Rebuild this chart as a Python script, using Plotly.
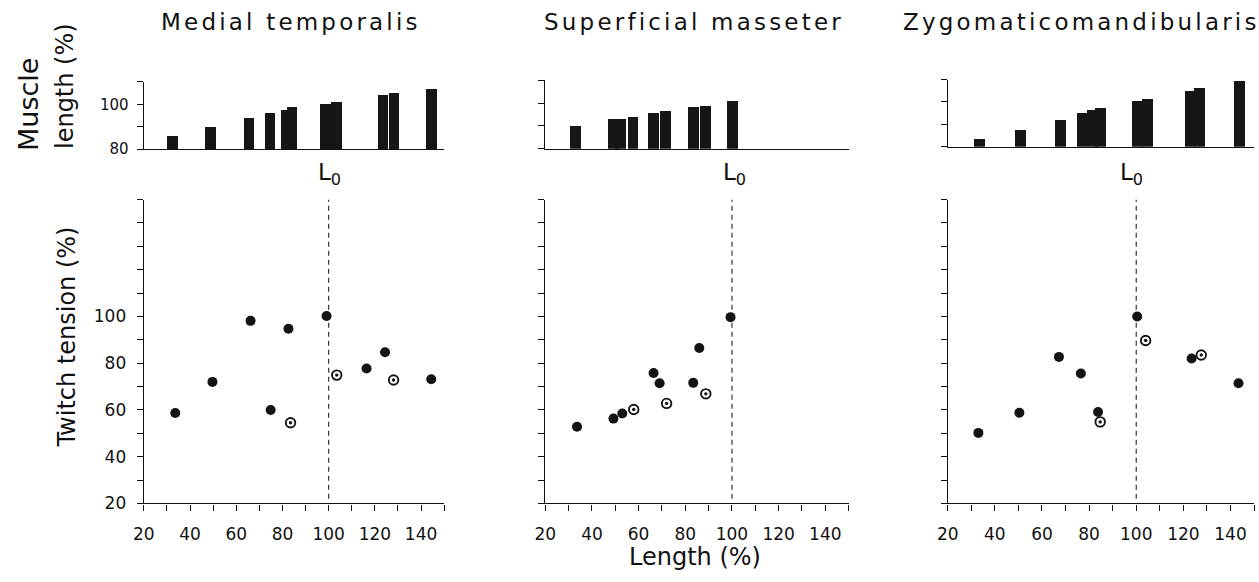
import plotly.graph_objects as go

FONT = "DejaVu Sans"

# ---------------- data ----------------
TITLES = ["Medial temporalis", "Superficial masseter", "Zygomaticomandibularis"]

# Medial temporalis
MT_FILLED_LEN = [33.6, 49.7, 66.2, 74.9, 82.6, 99.1, 116.4, 124.4, 144.4]
MT_FILLED_TEN = [58.7, 72.0, 98.1, 60.0, 94.7, 100.2, 77.7, 84.7, 73.1]
MT_OPEN_LEN = [83.5, 103.5, 128.1]
MT_OPEN_TEN = [54.5, 74.9, 72.8]
MT_BAR_LEN = [32.4, 48.9, 65.4, 74.6, 81.8, 84.0, 98.5, 103.2, 123.5, 128.2, 144.3]
MT_BAR_VAL = [86.1, 90.0, 93.8, 96.1, 97.3, 98.9, 100.2, 101.1, 104.1, 105.0, 107.1]

# Superficial masseter
SM_FILLED_LEN = [33.6, 49.2, 53.0, 66.4, 69.0, 83.4, 86.0, 99.4]
SM_FILLED_TEN = [52.8, 56.3, 58.5, 75.8, 71.4, 71.6, 86.5, 99.7]
SM_OPEN_LEN = [57.9, 72.0, 88.8]
SM_OPEN_TEN = [60.2, 62.8, 66.9]
SM_BAR_LEN = [33.0, 49.3, 52.4, 57.7, 66.6, 71.6, 83.5, 88.7, 100.2]
SM_BAR_VAL = [89.7, 92.7, 92.7, 93.9, 95.4, 96.4, 98.2, 98.7, 100.6]

# Zygomaticomandibularis
ZM_FILLED_LEN = [33.0, 50.4, 67.2, 76.5, 83.8, 100.4, 123.5, 143.4]
ZM_FILLED_TEN = [50.2, 58.8, 82.7, 75.6, 59.1, 100.0, 82.0, 71.4]
ZM_OPEN_LEN = [84.7, 104.0, 127.6]
ZM_OPEN_TEN = [54.9, 89.7, 83.5]
ZM_BAR_LEN = [33.5, 50.8, 67.7, 76.9, 81.5, 84.7, 100.4, 104.6, 122.7, 126.7, 143.7]
ZM_BAR_VAL = [83.6, 87.7, 92.1, 95.2, 96.4, 97.4, 100.4, 101.3, 105.3, 106.3, 109.5]

L0_VALUE = 100

X_TICK_VALS = [20, 40, 60, 80, 100, 120, 140]
X_TICK_TEXT = ["20", "40", "60", "80", "100", "120", "140"]
X_MINOR_VALS = [30, 50, 70, 90, 110, 130, 150]
Y_TICK_VALS = [20, 40, 60, 80, 100]
Y_TICK_TEXT = ["20", "40", "60", "80", "100"]
Y_MINOR_VALS = [30, 50, 70, 90, 110, 120, 130, 140, 150]
BAR_TICK_VALS = [80, 100]
BAR_TICK_TEXT = ["80", "100"]
BAR_MINOR_VALS = [90, 110]

X_RANGE = [20, 150]
Y_RANGE = [20, 150]
BAR_RANGE = [80, 110]

panels = [
    (MT_FILLED_LEN, MT_FILLED_TEN, MT_OPEN_LEN, MT_OPEN_TEN, MT_BAR_LEN, MT_BAR_VAL),
    (SM_FILLED_LEN, SM_FILLED_TEN, SM_OPEN_LEN, SM_OPEN_TEN, SM_BAR_LEN, SM_BAR_VAL),
    (ZM_FILLED_LEN, ZM_FILLED_TEN, ZM_OPEN_LEN, ZM_OPEN_TEN, ZM_BAR_LEN, ZM_BAR_VAL),
]

# ---------------- layout geometry (pixels) ----------------
W, H = 1259, 582
X_DOMAINS_PX = [(134, 437), (539, 845), (945, 1254)]
SC_Y_PX = (512.3, 203.0)
BAR_Y_PX = [(151.7, 83.3), (151.3, 81.7), (149.3, 81.0)]
TITLE_X_PX = [282, 689, 1080]
L0_SHIFT = [1, 3, -5]


def px_x(p):
    return p / W


def px_y(p):
    return 1 - p / H


fig = go.Figure()
layout = dict(
    width=W, height=H,
    margin=dict(l=0, r=0, t=0, b=0),
    paper_bgcolor="white", plot_bgcolor="white",
    showlegend=False,
    font=dict(family=FONT, color="#111"),
    bargap=0,
)

axis_common = dict(
    showline=True, linecolor="#111", linewidth=1.4,
    showgrid=False, zeroline=False,
    ticks="outside", ticklen=6, tickwidth=1.3, tickcolor="#111",
)


def minor(vals):
    return dict(tickmode="array", tickvals=vals, ticks="outside", ticklen=6,
                tickwidth=1.3, tickcolor="#111", showgrid=False)


annotations = []
shapes = []

for i, (fl, ft, ol, ot, bl, bv) in enumerate(panels):
    sx = i + 1          # scatter axes
    bx = i + 4          # bar axes
    dom = [px_x(X_DOMAINS_PX[i][0]), px_x(X_DOMAINS_PX[i][1])]

    # scatter axes
    layout[f"xaxis{sx}"] = dict(
        axis_common, domain=dom, range=X_RANGE, anchor=f"y{sx}",
        tickmode="array", tickvals=X_TICK_VALS, ticktext=X_TICK_TEXT,
        minor=minor(X_MINOR_VALS),
        tickfont=dict(size=17, family=FONT, color="#111"), ticklabelstandoff=9,
    )
    layout[f"yaxis{sx}"] = dict(
        axis_common, domain=[px_y(SC_Y_PX[0]), px_y(SC_Y_PX[1])], range=Y_RANGE,
        anchor=f"x{sx}", tickmode="array", tickvals=Y_TICK_VALS,
        ticktext=Y_TICK_TEXT, showticklabels=(i == 0),
        minor=minor(Y_MINOR_VALS),
        tickfont=dict(size=17, family=FONT, color="#111"), ticklabelstandoff=7,
    )
    # bar axes
    layout[f"xaxis{bx}"] = dict(
        axis_common, domain=dom, range=X_RANGE, anchor=f"y{bx}",
        ticks="", showticklabels=False,
    )
    layout[f"yaxis{bx}"] = dict(
        axis_common, domain=[px_y(BAR_Y_PX[i][0]), px_y(BAR_Y_PX[i][1])],
        range=BAR_RANGE, anchor=f"x{bx}", tickmode="array",
        tickvals=BAR_TICK_VALS, ticktext=BAR_TICK_TEXT, showticklabels=(i == 0),
        minor=minor(BAR_MINOR_VALS),
        tickfont=dict(size=15, family=FONT, color="#111"), ticklabelstandoff=5,
    )

    xs, ys = ("x" if sx == 1 else f"x{sx}"), ("y" if sx == 1 else f"y{sx}")

    fig.add_trace(go.Bar(
        x=bl, y=bv, width=4.6, xaxis=f"x{bx}", yaxis=f"y{bx}",
        marker=dict(color="#161616", line=dict(width=0)),
    ))
    fig.add_trace(go.Scatter(
        x=fl, y=ft, mode="markers", xaxis=xs, yaxis=ys,
        marker=dict(size=10, color="#141414", line=dict(width=0)),
    ))
    fig.add_trace(go.Scatter(
        x=ol, y=ot, mode="markers", xaxis=xs, yaxis=ys,
        marker=dict(size=9.5, color="white", line=dict(width=1.9, color="#141414")),
    ))
    fig.add_trace(go.Scatter(
        x=ol, y=ot, mode="markers", xaxis=xs, yaxis=ys,
        marker=dict(size=3.4, color="#141414", line=dict(width=0)),
    ))

    shapes.append(dict(
        type="line", xref=xs, yref=ys, x0=L0_VALUE, x1=L0_VALUE, y0=22, y1=150,
        line=dict(color="#333", width=1.2, dash="5px,4px"), layer="below",
    ))

    annotations.append(dict(
        text=f'<span style="letter-spacing:3.2px">{TITLES[i]}</span>',
        xref="paper", yref="paper", x=px_x(TITLE_X_PX[i]), y=px_y(22),
        xanchor="center", yanchor="middle", showarrow=False,
        font=dict(size=23, family=FONT, color="#111"),
    ))
    annotations.append(dict(
        text="L<sub>0</sub>",
        xref=f"x{bx}", yref="paper", x=L0_VALUE, y=px_y(177),
        xanchor="center", yanchor="middle", xshift=L0_SHIFT[i], showarrow=False,
        font=dict(size=23, family=FONT, color="#111"),
    ))

annotations += [
    dict(text="Muscle", xref="paper", yref="paper", x=px_x(17), y=px_y(106),
         textangle=-90, showarrow=False, xanchor="center", yanchor="middle",
         font=dict(size=27, family=FONT, color="#111")),
    dict(text="length (%)", xref="paper", yref="paper", x=px_x(55), y=px_y(88),
         textangle=-90, showarrow=False, xanchor="center", yanchor="middle",
         font=dict(size=24, family=FONT, color="#111")),
    dict(text="Twitch tension (%)", xref="paper", yref="paper", x=px_x(57), y=px_y(343),
         textangle=-90, showarrow=False, xanchor="center", yanchor="middle",
         font=dict(size=24, family=FONT, color="#111")),
    dict(text="Length (%)", xref="paper", yref="paper", x=px_x(690), y=px_y(567),
         showarrow=False, xanchor="center", yanchor="middle", borderpad=0,
         font=dict(size=24, family=FONT, color="#111")),
]

layout["annotations"] = annotations
layout["shapes"] = shapes
fig.update_layout(**layout)

fig.write_html("out.html")
